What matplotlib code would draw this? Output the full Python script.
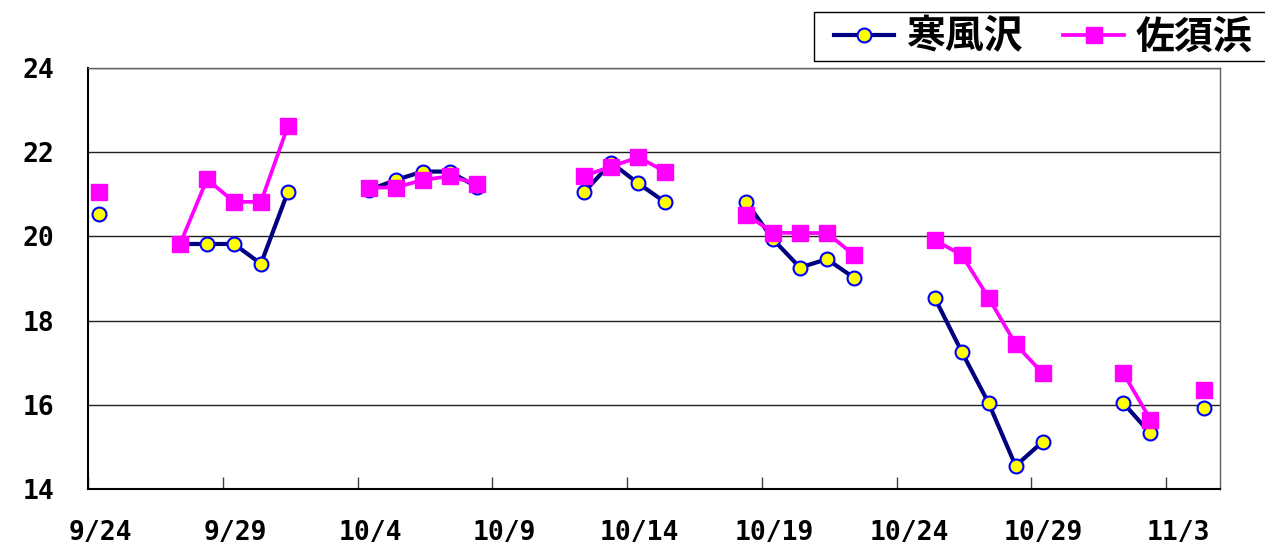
import matplotlib.pyplot as plt
import numpy as np
import pandas as pd
from matplotlib.patches import Rectangle

# daily readings 9/24 .. 11/4 (None = no measurement)
days = pd.date_range("2000-09-24", "2000-11-04", freq="D")

sabusawa = [
    20.53, None, None,
    19.82, 19.82, 19.82, 19.35, 21.06, None, None,
    21.10, 21.34, 21.54, 21.54, 21.18, None, None, None,
    21.06, 21.75, 21.26, 20.81, None, None,
    20.82, 19.93, 19.26, 19.46, 19.02, None, None,
    18.54, 17.26, 16.04, 14.55, 15.12, None, None,
    16.04, 15.32, None,
    15.92,
]
sasuhama = [
    21.06, None, None,
    19.82, 21.36, 20.82, 20.82, 22.62, None, None,
    21.16, 21.16, 21.34, 21.43, 21.25, None, None, None,
    21.44, 21.66, 21.88, 21.54, None, None,
    20.52, 20.09, 20.08, 20.08, 19.56, None, None,
    19.91, 19.56, 18.54, 17.44, 16.75, None, None,
    16.75, 15.65, None,
    16.35,
]
tick_dates = pd.date_range("2000-09-24", "2000-11-03", freq="5D")
tick_labels = [f"{d.month}/{d.day}" for d in tick_dates]
yticks = [14, 16, 18, 20, 22, 24]

plt.rcParams["font.family"] = ["Noto Sans CJK JP", "DejaVu Sans"]

W, H = 1265, 548
fig = plt.figure(figsize=(W / 100, H / 100), dpi=100)
ax = fig.add_axes([88 / W, 59 / H, 1132 / W, 421 / H])

x = days + pd.Timedelta(hours=10)
s1 = np.array([np.nan if v is None else v for v in sabusawa])
s2 = np.array([np.nan if v is None else v for v in sasuhama])

ax.plot(x, s1, color="#000080", linewidth=3, marker="o", markersize=10,
        markerfacecolor="#ffff00", markeredgecolor="#0000ff",
        markeredgewidth=1.5, label="寒風沢", zorder=3)
ax.plot(x, s2, color="#ff00ff", linewidth=2.7, marker="s", markersize=11,
        markerfacecolor="#ff00ff", markeredgecolor="#ff00ff",
        label="佐須浜", zorder=4)

ax.set_xlim(days[0], days[0] + pd.Timedelta(days=42))
ax.set_ylim(14, 24)

ax.set_yticks(yticks)
ax.set_yticklabels([str(v) for v in yticks], family="DejaVu Sans Mono",
                   fontweight="bold", fontsize=19)
ax.tick_params(axis="y", length=0, pad=24)

ax.set_xticks(tick_dates)
ax.set_xticklabels([])
ax.tick_params(axis="x", which="major", direction="in", length=9,
               width=1, color="#404040")
ax.set_xticks(tick_dates + pd.Timedelta(hours=11), minor=True)
ax.set_xticklabels(tick_labels, minor=True, family="DejaVu Sans Mono",
                   fontweight="bold", fontsize=19)
ax.tick_params(axis="x", which="minor", length=0, pad=22)

ax.grid(axis="y", color="#202020", linewidth=1)
ax.set_axisbelow(True)
for side in ["top", "right"]:
    ax.spines[side].set_color("#606060")
    ax.spines[side].set_linewidth(1)
for side in ["left", "bottom"]:
    ax.spines[side].set_color("black")
    ax.spines[side].set_linewidth(1.5)

# legend box runs off the right edge, as in the original
fig.patches.append(Rectangle((814 / W, 1 - 61 / H), 470 / W, 49 / H,
                             transform=fig.transFigure, fill=False,
                             edgecolor="black", linewidth=1))
leg = fig.legend(loc="center left", bbox_to_anchor=(834 / W, 1 - 37 / H),
                 ncol=2, frameon=False,
                 prop={"family": ["Noto Sans CJK JP"], "weight": "bold",
                       "size": 28},
                 handlelength=1.55, handletextpad=0.3, columnspacing=1.05,
                 borderpad=0, borderaxespad=0)

fig.savefig("out.png", dpi=100)
